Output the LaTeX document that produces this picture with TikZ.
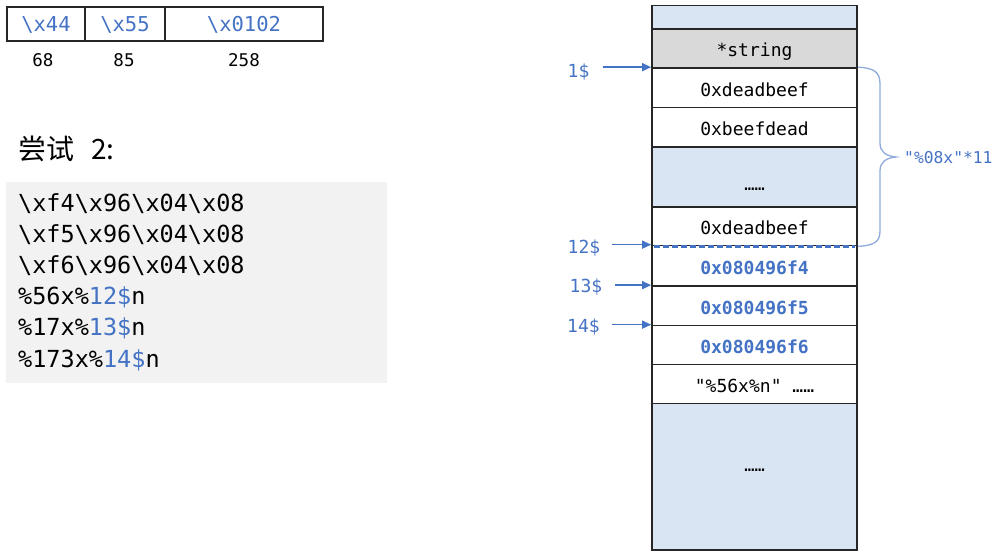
\documentclass[tikz,border=0pt]{standalone}
\usepackage{fontspec}
\setmonofont{DejaVu Sans Mono}
\newfontfamily\cjk{Noto Sans CJK SC}
\usetikzlibrary{arrows.meta,calc}
\definecolor{hblue}{HTML}{4472C4}
\definecolor{cellblue}{HTML}{DAE5F3}
\definecolor{cellgray}{HTML}{D9D9D9}
\definecolor{codebg}{HTML}{F2F2F2}
\definecolor{bracec}{HTML}{8FAADC}
\begin{document}
\begin{tikzpicture}[x=1pt,y=-1pt,
  cell/.style={draw=black!85, line width=1.7pt, minimum width=205pt, inner sep=0pt,
    font=\ttfamily\fontsize{18}{20}\selectfont, text height=17pt, text depth=0pt},
  addr/.style={cell, text=hblue, font=\ttfamily\bfseries\fontsize{18}{20}\selectfont},
  tcell/.style={draw=black!85, line width=1.7pt, minimum height=34pt, inner sep=0pt,
    font=\ttfamily\fontsize{20.5}{22}\selectfont, text=hblue, text height=15pt, text depth=0pt},
  num/.style={font=\ttfamily\fontsize{17.5}{19}\selectfont, anchor=base, inner sep=0pt},
  codeline/.style={font=\ttfamily\fontsize{23.5}{25}\selectfont, anchor=base west, inner sep=0pt},
  lbl/.style={font=\ttfamily\fontsize{18}{20}\selectfont, text=hblue, inner sep=0pt, text height=13pt, text depth=0pt},
  dotsnode/.style={font=\ttfamily\fontsize{17}{19}\selectfont, anchor=base, inner sep=0pt},
  ptr/.style={draw=hblue, line width=1.3pt, -{Triangle[length=9pt,width=8pt]}},
]
\useasboundingbox (0,0) rectangle (997,556);

% top table
\node[tcell, minimum width=78pt] (t1) at (46,24) {\textbackslash x44};
\node[tcell, minimum width=80pt] (t2) at (125,24) {\textbackslash x55};
\node[tcell, minimum width=158pt] (t3) at (244,24) {\textbackslash x0102};
\node[num] (n1) at (43,66.5) {68};
\node[num] (n2) at (124,66.5) {85};
\node[num] (n3) at (244,66.5) {258};

% title
\node[font=\cjk\fontsize{28}{30}\selectfont, anchor=base west, inner sep=0pt] (title) at (18,160) {尝试\hspace{17pt}2:};

% code box
\node[fill=codebg, minimum width=381pt, minimum height=201pt, inner sep=0pt, anchor=north west] (codebox) at (6,182) {};
\node[codeline] (c1) at (18,212) {\textbackslash xf4\textbackslash x96\textbackslash x04\textbackslash x08};
\node[codeline] (c2) at (18,243) {\textbackslash xf5\textbackslash x96\textbackslash x04\textbackslash x08};
\node[codeline] (c3) at (18,274) {\textbackslash xf6\textbackslash x96\textbackslash x04\textbackslash x08};
\node[codeline] (c4) at (18,305) {\%56x\%\textcolor{hblue}{12\$}n};
\node[codeline] (c5) at (18,336) {\%17x\%\textcolor{hblue}{13\$}n};
\node[codeline] (c6) at (18,367) {\%173x\%\textcolor{hblue}{14\$}n};

% stack
\node[cell, fill=cellblue, minimum height=23.5pt] (s0) at (754.5,17.25) {};
\node[cell, fill=cellgray, minimum height=39pt] (s1) at (754.5,48.5) {*string};
\node[cell, fill=white, minimum height=39.5pt] (s2) at (754.5,87.75) {0xdeadbeef};
\node[cell, fill=white, minimum height=39.5pt] (s3) at (754.5,127.25) {0xbeefdead};
\node[cell, fill=cellblue, minimum height=60pt] (s4) at (754.5,177) {};
\node[cell, fill=white, minimum height=38.5pt] (s5) at (754.5,226.25) {0xdeadbeef};
\node[addr, fill=white, minimum height=40.5pt] (s6) at (754.5,265.75) {0x080496f4};
\node[addr, fill=white, minimum height=39.5pt] (s7) at (754.5,305.75) {0x080496f5};
\node[addr, fill=white, minimum height=39pt] (s8) at (754.5,345) {0x080496f6};
\node[cell, fill=white, minimum height=39pt] (s9) at (754.5,384) {"\%56x\%n" ……};
\node[cell, fill=cellblue, minimum height=146.5pt] (s10) at (754.5,476.75) {};
\node[dotsnode] (d1) at (754.5,191) {……};
\node[dotsnode] (d2) at (754.5,471) {……};

% dashed marker
\draw[hblue, line width=3.5pt, dash pattern=on 6pt off 3pt] ([xshift=3pt]s5.south west) -- ([xshift=-3pt]s5.south east);

% brace
\draw[bracec, line width=1.3pt] (s2.north east) .. controls (874,68) and (880,72) .. (880,84) -- (880,143)
  .. controls (880,152) and (886,156) .. (896,157)
  .. controls (886,158) and (880,162) .. (880,171) -- (880,231)
  .. controls (880,242) and (874,245.5) .. (s5.south east);
\node[lbl, anchor=west, font=\ttfamily\fontsize{16.3}{18}\selectfont] (bl) at (904,157) {"\%08x"*11};

% pointer labels
\node[lbl] (l1) at (578.5,71) {1\$};
\node[lbl] (l12) at (584,247.5) {12\$};
\node[lbl] (l13) at (586,286.5) {13\$};
\node[lbl] (l14) at (583.5,326.5) {14\$};
\draw[ptr] ($(l1.east |- s2.north west)+(13,0)$) -- (s2.north west);
\draw[ptr] ($(l12.east |- s6.north west)+(12,0)$) -- (s6.north west);
\draw[ptr] ($(l13.east |- s7.north west)+(13,0)$) -- (s7.north west);
\draw[ptr] ($(l14.east |- s8.north west)+(12,0)$) -- (s8.north west);
\end{tikzpicture}
\end{document}
